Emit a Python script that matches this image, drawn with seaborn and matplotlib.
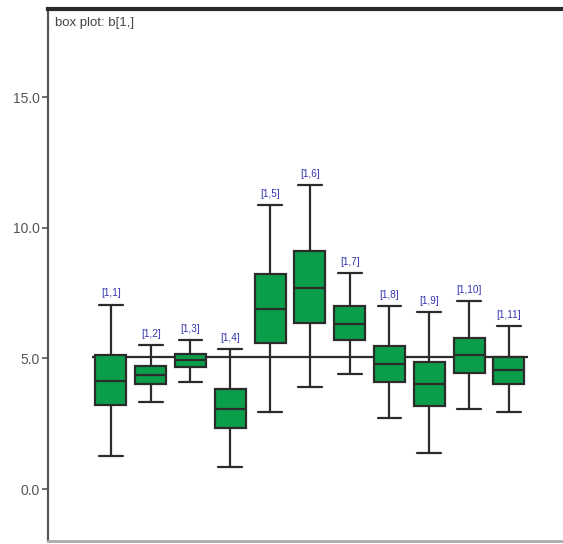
import numpy as np
import pandas as pd
import matplotlib
matplotlib.use("Agg")
import matplotlib.pyplot as plt
import seaborn as sns

# Posterior summaries for b[1, k], k = 1..11
nodes = ["[1,1]", "[1,2]", "[1,3]", "[1,4]", "[1,5]", "[1,6]",
         "[1,7]", "[1,8]", "[1,9]", "[1,10]", "[1,11]"]
lower = [1.26, 3.32, 4.08, 0.84, 2.96, 3.92, 4.40, 2.72, 1.39, 3.08, 2.95]
q1 = [3.20, 4.00, 4.67, 2.32, 5.59, 6.35, 5.71, 4.10, 3.18, 4.45, 4.00]
median = [4.12, 4.36, 4.95, 3.07, 6.87, 7.71, 6.32, 4.80, 4.02, 5.13, 4.54]
q3 = [5.11, 4.72, 5.18, 3.84, 8.21, 9.10, 7.00, 5.48, 4.87, 5.76, 5.06]
upper = [7.06, 5.50, 5.71, 5.36, 10.87, 11.64, 8.26, 7.00, 6.76, 7.18, 6.23]
overall_mean = 5.07
yticks = [0.0, 5.0, 10.0, 15.0]

# Long-form table: the five summary points per node reproduce the box exactly
rows = []
for n, lo, a, m, b, hi in zip(nodes, lower, q1, median, q3, upper):
    for v in (lo, a, m, b, hi):
        rows.append({"node": n, "value": v})
df = pd.DataFrame(rows)

sns.set_style("white")
plt.rcParams["font.family"] = ["Liberation Sans", "DejaVu Sans"]

fig = plt.figure(figsize=(5.63, 5.44), dpi=100)
ax = fig.add_axes([48 / 563, 3 / 544, 1 - 48 / 563, 532 / 544])

edge = "#2b2b2b"
sns.boxplot(data=df, x="node", y="value", order=nodes, ax=ax,
            color="#0a9e4a", saturation=1, width=0.78,
            whis=(0, 100), linecolor=edge, linewidth=1.6,
            showfliers=False)

# Shorter caps on the whiskers
for line in ax.lines:
    xd = np.asarray(line.get_xdata(), dtype=float)
    yd = np.asarray(line.get_ydata(), dtype=float)
    if len(xd) == 2 and yd[0] == yd[1]:
        c = xd.mean()
        i = int(round(c))
        if yd[0] in (lower[i], upper[i]):
            line.set_xdata([c - 0.30, c + 0.30])

ax.hlines(overall_mean, -0.48, 10.48, color=edge, linewidth=1.6, zorder=0.5)

for i, (n, hi) in enumerate(zip(nodes, upper)):
    ax.annotate(n, (i, hi), xytext=(0, 4.5), textcoords="offset points",
                ha="center", va="bottom", fontsize=7.2, color="#3434b0")

ax.text(0.013, 0.985, "box plot: b[1,]", transform=ax.transAxes,
        ha="left", va="top", fontsize=9.5, color="#444444")

ax.set_xlim(-1.58, 11.36)
ax.set_ylim(-1.99, 18.37)
ax.set_yticks(yticks)
ax.set_yticklabels([f"{t:.1f}" for t in yticks])
ax.set_xticks([])
ax.set_xlabel("")
ax.set_ylabel("")
ax.tick_params(axis="y", left=True, direction="out", length=4, width=1.2,
               color="#555555", labelsize=10, labelcolor="#555555", pad=2)

ax.spines["left"].set_color("#555555")
ax.spines["left"].set_linewidth(1.6)
ax.spines["top"].set_color("#2a2a2a")
ax.spines["top"].set_linewidth(3)
ax.spines["bottom"].set_color("#aaaaaa")
ax.spines["bottom"].set_linewidth(2)
ax.spines["right"].set_visible(False)

fig.savefig("out.png", dpi=100)
